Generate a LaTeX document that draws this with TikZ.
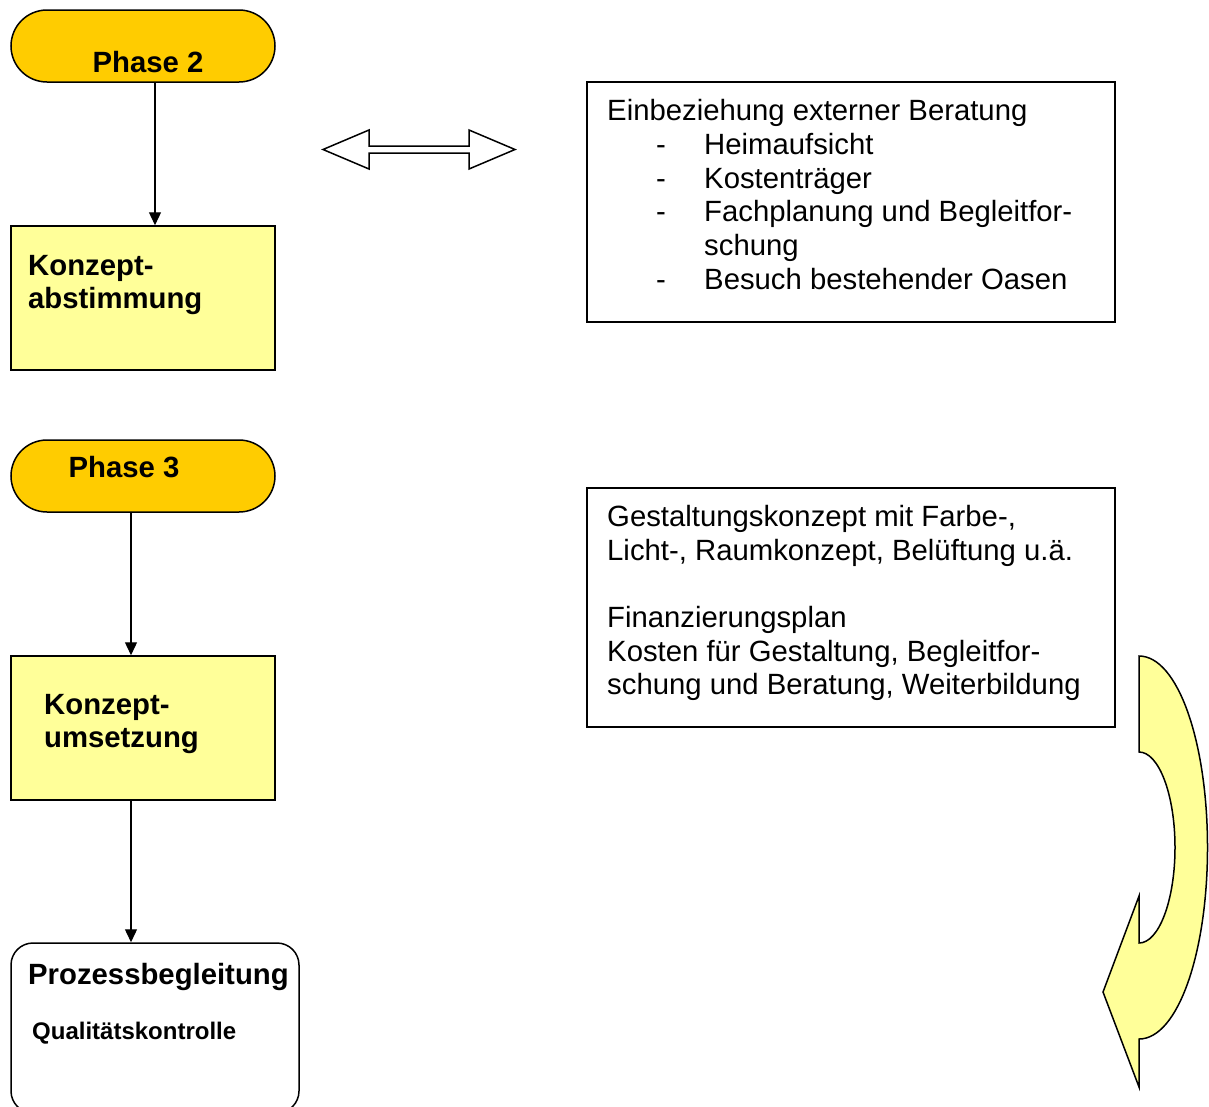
\documentclass[tikz,border=0pt]{standalone}
\usepackage{fontspec}
\setmainfont{Liberation Sans}
\usetikzlibrary{arrows.meta}
\definecolor{phasegold}{HTML}{FFCC00}
\definecolor{paleyellow}{HTML}{FFFF99}
\newcommand*{\boxW}{264}
\newcommand*{\boxH}{144}
\newcommand*{\infoW}{528}
\newcommand*{\lineSkip}{34}
\tikzset{
  phasepill/.style={draw, line width=1.5pt, fill=phasegold, rounded corners=36pt, minimum width=\boxW pt, minimum height=72pt, inner sep=0pt},
  stepbox/.style={draw, line width=1.5pt, fill=paleyellow, minimum width=\boxW pt, minimum height=\boxH pt, inner sep=0pt},
  infobox/.style={draw, line width=1.5pt, minimum width=\infoW pt, inner sep=0pt},
  flow/.style={line width=1.3pt, -{Triangle[length=13pt,width=12pt]}},
  head/.style={font=\fontsize{29.3}{34}\selectfont\bfseries, inner sep=0pt},
  body/.style={font=\fontsize{29.3}{34}\selectfont, inner sep=0pt, anchor=base west}
}
\begin{document}
\begin{tikzpicture}[x=1pt, y=-1pt]
        \useasboundingbox (0,0) rectangle (1209,1106);
        \node [phasepill] (phase2) at (143,46) {};
        \node [head, anchor=base] (phase2txt) at (148,72) {Phase 2};
        \node [stepbox] (abst) at (143,298) {};
        \node [head, anchor=base west] (abst1) at (28,275) {Konzept-};
        \node [head, anchor=base west] (abst2) at (28,308) {abstimmung};
        \draw [flow] ([xshift=12pt]phase2.south) -- ([xshift=12pt]abst.north);

        \node [phasepill] (phase3) at (143,476) {};
        \node [head, anchor=base] (phase3txt) at (124,477) {Phase 3};
        \node [stepbox] (umsetz) at (143,728) {};
        \node [head, anchor=base west] (umsetz1) at (44,714) {Konzept-};
        \node [head, anchor=base west] (umsetz2) at (44,747) {umsetzung};
        \draw [flow] ([xshift=-12pt]phase3.south) -- ([xshift=-12pt]umsetz.north);

        \node [draw, line width=1.5pt, rounded corners=22pt, minimum width=288pt, minimum height=170pt, inner sep=0pt] (prozess) at (155,1028) {};
        \node [head, anchor=base west] (prozess1) at (28,984) {Prozessbegleitung};
        \node [head, font=\fontsize{24}{28}\selectfont\bfseries, anchor=base west] (prozess2) at (32,1039) {Qualitätskontrolle};
        \draw [flow] ([xshift=-12pt]umsetz.south) -- ([xshift=-24pt]prozess.north);

        \draw [line width=1.5pt] (323,149.5) -- (369,130) -- (369,146) -- (469,146) -- (469,130) -- (515,149.5) -- (469,169) -- (469,153) -- (369,153) -- (369,169) -- cycle;

        \node [infobox, minimum height=240pt] (berat) at (851,202) {};
        \foreach \x/\y/\t [count=\i] in {607/120/{Einbeziehung externer Beratung},
            656/154/-, 704/154/Heimaufsicht,
            656/188/-, 704/188/Kostenträger,
            656/221/-, 704/221/{Fachplanung und Begleitfor-},
            704/255/schung,
            656/289/-, 704/289/{Besuch bestehender Oasen}} {
            \node [body] (berat\i) at (\x,\y) {\t};
        }

        \node [infobox, minimum height=239pt] (gestalt) at (851,607.5) {};
        \foreach \y/\t [count=\i] in {526/{Gestaltungskonzept mit Farbe-,},
            560/{Licht-, Raumkonzept, Belüftung u.ä.},
            627/Finanzierungsplan,
            661/{Kosten für Gestaltung, Begleitfor-},
            694/{schung und Beratung, Weiterbildung}} {
            \node [body] (gestalt\i) at (607,\y) {\t};
        }

        \draw [line width=1.5pt, fill=paleyellow] (1139,656) .. controls (1177.7,656) and (1207.5,741.7) .. (1207.5,847.5)
            .. controls (1207.5,953.3) and (1177.7,1039) .. (1139,1039) -- (1139,1087) -- (1103,992) -- (1139,896) -- (1139,943)
            .. controls (1158.9,943) and (1175,900.2) .. (1175,847.5) .. controls (1175,794.8) and (1158.9,752) .. (1139,752) -- cycle;
    \end{tikzpicture}
\end{document}
